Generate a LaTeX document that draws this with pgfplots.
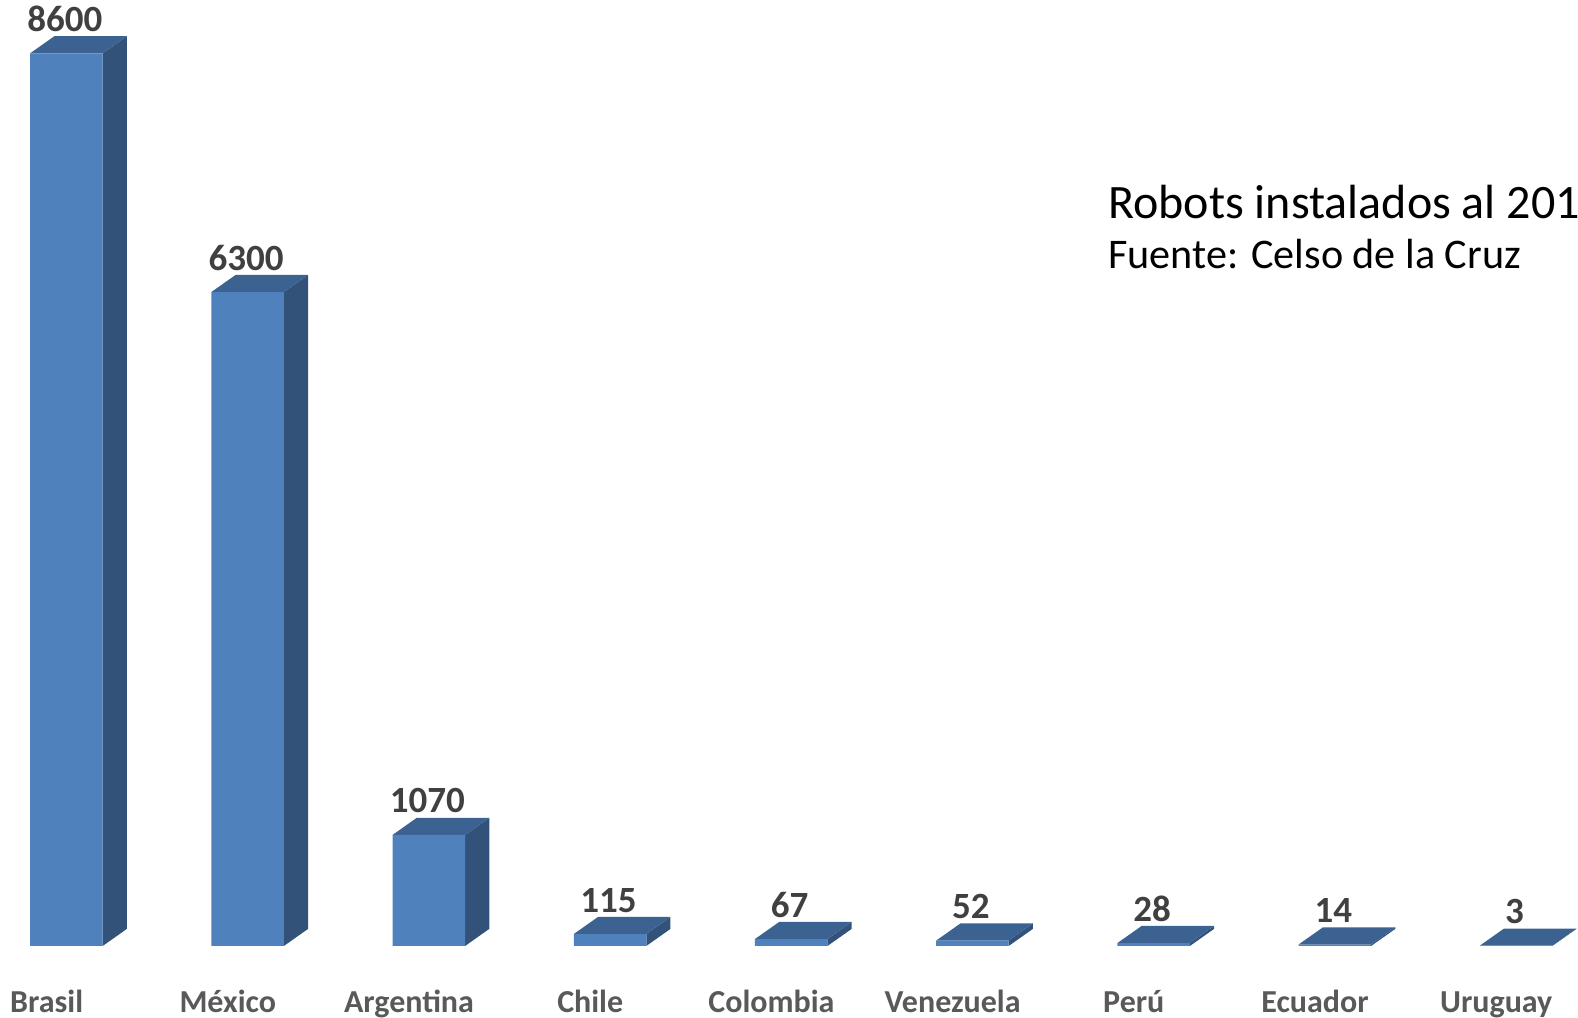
\documentclass[border=0pt]{standalone}
\usepackage{fontspec}
\setmainfont{Carlito}
\usepackage{pgfplots}
\usepackage{pgfplotstable}
\pgfplotsset{compat=1.18}
\definecolor{frontc}{RGB}{79,129,189}
\definecolor{topc}{RGB}{60,98,145}
\definecolor{sidec}{RGB}{50,82,122}
\definecolor{vallab}{RGB}{64,64,64}
\definecolor{catlab}{RGB}{89,89,89}

\pgfplotstableread{
i v
0 8600
1 6300
2 1070
3 115
4 67
5 52
6 28
7 14
8 3
}\datatable

% template faces of the 3D look: x offset, fraction of value, depth factor
\pgfplotstableread{
x f d
0.2 0 0
0.3336 0 1
0.3336 1 1
0.2 1 0
}\sideface
\pgfplotstableread{
x f d
-0.2 1 0
0.2 1 0
0.3336 1 1
-0.0664 1 1
}\topface

\begin{document}
\begin{tikzpicture}
\begin{axis}[
 x=90.6pt, y=0.0519pt,
 xmin=-0.3665, xmax=8.342, ymin=-693.6, ymax=9113.7,
 axis line style={draw=none},
 major tick length=0pt,
 ytick=\empty,
 xtick={0,...,8},
 xticklabels={Brasil,México,Argentina,Chile,Colombia,Venezuela,Perú,Ecuador,Uruguay},
 xticklabel style={font=\bfseries\fontsize{16}{18}\selectfont, text=catlab, anchor=base, xshift=-9.9pt, yshift=2.5pt, inner sep=0pt},
 clip=false,
]
\pgfplotsinvokeforeach{0,...,8}{
 \pgfplotstablegetelem{#1}{v}\of\datatable
 \edef\val{\pgfplotsretval}
 \addplot[fill=sidec, draw=none] table[x expr=#1+\thisrow{x}, y expr=\thisrow{f}*\val+\thisrow{d}*164.7]{\sideface};
 \addplot[fill=topc, draw=none] table[x expr=#1+\thisrow{x}, y expr=\thisrow{f}*\val+\thisrow{d}*164.7]{\topface};
}
\addplot[ybar, bar width=36.25pt, fill=frontc, draw=none,
  nodes near coords, point meta=explicit symbolic,
  every node near coord/.append style={font=\bfseries\fontsize{18.5}{20}\selectfont, text=vallab, anchor=base, yshift=11pt, xshift=-0.75pt}]
  table[x=i, y=v, meta=v]{\datatable};
\node[anchor=base west, font=\fontsize{24}{26}\selectfont, inner sep=0pt] at (axis cs:5.748,7013) {Robots instalados al 201};
\node[anchor=base west, font=\fontsize{21.1}{23}\selectfont, inner sep=0pt] at (axis cs:5.748,6530) {Fuente: Celso de la Cruz};
\end{axis}
\pgfresetboundingbox
\useasboundingbox (current axis.south west) rectangle (current axis.north east);
\end{tikzpicture}
\end{document}
